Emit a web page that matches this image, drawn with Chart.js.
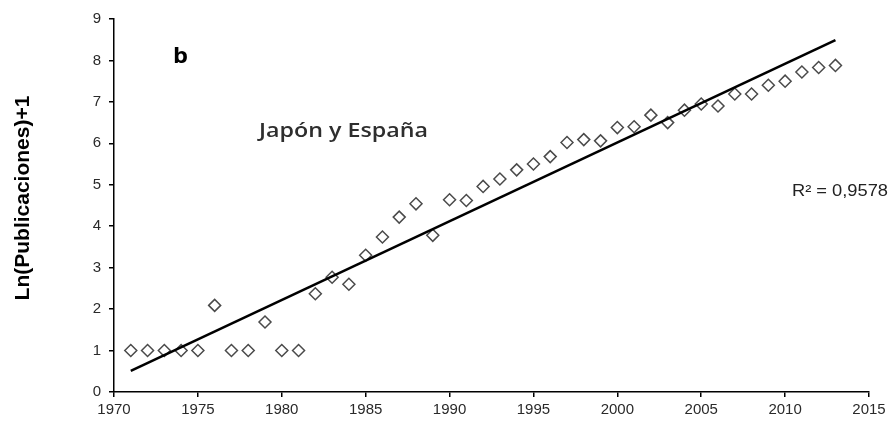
<!DOCTYPE html>
<html>
<head>
<meta charset="utf-8">
<script src="https://cdn.jsdelivr.net/npm/chart.js@4.4.1/dist/chart.umd.min.js"></script>
<style>
  html, body { margin: 0; padding: 0; background: #fff; }
  #wrap { width: 894px; height: 423px; position: relative; }
</style>
</head>
<body>
<div id="wrap"><canvas id="c"></canvas></div>
<script>
// ---- data ----
const years = [1971,1972,1973,1974,1975,1976,1977,1978,1979,1980,1981,1982,1983,1984,1985,1986,1987,1988,1989,1990,1991,1992,1993,1994,1995,1996,1997,1998,1999,2000,2001,2002,2003,2004,2005,2006,2007,2008,2009,2010,2011,2012,2013];
const lnValues = [1.0,1.0,1.0,1.0,1.0,2.09,1.0,1.0,1.69,1.0,1.0,2.37,2.77,2.6,3.3,3.74,4.22,4.54,3.78,4.64,4.62,4.96,5.14,5.36,5.5,5.68,6.02,6.09,6.06,6.38,6.4,6.68,6.5,6.8,6.95,6.9,7.19,7.19,7.4,7.5,7.72,7.83,7.88];
const trendYears = [1971, 2013];
const trendValues = [0.51, 8.49];
const xTicks = [1970,1975,1980,1985,1990,1995,2000,2005,2010,2015];
const yTicks = [0,1,2,3,4,5,6,7,8,9];
const yAxisTitle = 'Ln(Publicaciones)+1';
const panelLabel = 'b';
const seriesLabel = 'Japón y España';
const r2Label = 'R² = 0,9578';

const pts = years.map((y, i) => ({x: y, y: lnValues[i]}));
const trend = trendYears.map((y, i) => ({x: y, y: trendValues[i]}));

function fitText(ctx, text, x, y, width) {
  const w = ctx.measureText(text).width;
  ctx.save();
  ctx.translate(x, y);
  ctx.scale(width / w, 1);
  ctx.fillText(text, 0, 0);
  ctx.restore();
}

const textPlugin = {
  id: 'texts',
  afterDraw(chart) {
    const ctx = chart.ctx;
    ctx.save();
    ctx.textBaseline = 'alphabetic';
    ctx.textAlign = 'left';
    ctx.fillStyle = '#000';
    ctx.font = 'bold 21px "Open Sans", Lato, sans-serif';
    fitText(ctx, panelLabel, 173, 63, 15);
    ctx.fillStyle = '#2e2e2e';
    ctx.font = '600 20px "Open Sans", Lato, sans-serif';
    fitText(ctx, seriesLabel, 259, 137, 169);
    ctx.fillStyle = '#222';
    ctx.font = '16px "Liberation Sans", Arial, sans-serif';
    fitText(ctx, r2Label, 792, 196, 96);
    // y-axis title
    ctx.fillStyle = '#000';
    ctx.font = 'bold 21px "Liberation Sans", Arial, sans-serif';
    ctx.textAlign = 'center';
    ctx.textBaseline = 'middle';
    ctx.translate(23, 198);
    ctx.rotate(-Math.PI / 2);
    ctx.fillText(yAxisTitle, 0, 0);
    ctx.restore();
  }
};

const tickFont = { family: '"Liberation Sans", Arial, sans-serif', size: 15 };

new Chart(document.getElementById('c'), {
  type: 'scatter',
  data: {
    datasets: [
      {
        type: 'line',
        data: trend,
        borderColor: '#000',
        borderWidth: 2.6,
        pointRadius: 0,
        fill: false,
        order: 0
      },
      {
        data: pts,
        pointStyle: 'rectRot',
        pointRadius: 6,
        pointBorderColor: '#4a4a4a',
        pointBackgroundColor: '#fff',
        pointBorderWidth: 1.5,
        showLine: false,
        order: 1
      }
    ]
  },
  options: {
    responsive: true,
    maintainAspectRatio: false,
    animation: false,
    layout: { padding: { left: 0, right: 25, top: 19, bottom: 0 } },
    plugins: { legend: { display: false }, tooltip: { enabled: false } },
    scales: {
      x: {
        type: 'linear',
        min: 1970, max: 2015,
        afterBuildTicks(scale) { scale.ticks = xTicks.map(v => ({value: v})); },
        afterFit(scale) { scale.height = 31; },
        grid: { display: true, drawOnChartArea: false, drawTicks: true, tickLength: 5, color: '#000', lineWidth: 1.5 },
        border: { display: true, color: '#000', width: 1.5 },
        ticks: { font: tickFont, color: '#2a2a2a', padding: 4, maxRotation: 0, callback: v => String(v) }
      },
      y: {
        type: 'linear',
        min: 0, max: 9,
        afterBuildTicks(scale) { scale.ticks = yTicks.map(v => ({value: v})); },
        afterFit(scale) { scale.width = 114; },
        grid: { display: true, drawOnChartArea: false, drawTicks: true, tickLength: 5, color: '#000', lineWidth: 1.5 },
        border: { display: true, color: '#000', width: 1.5 },
        ticks: { font: tickFont, color: '#2a2a2a', padding: 8 }
      }
    }
  },
  plugins: [textPlugin]
});
</script>
</body>
</html>
